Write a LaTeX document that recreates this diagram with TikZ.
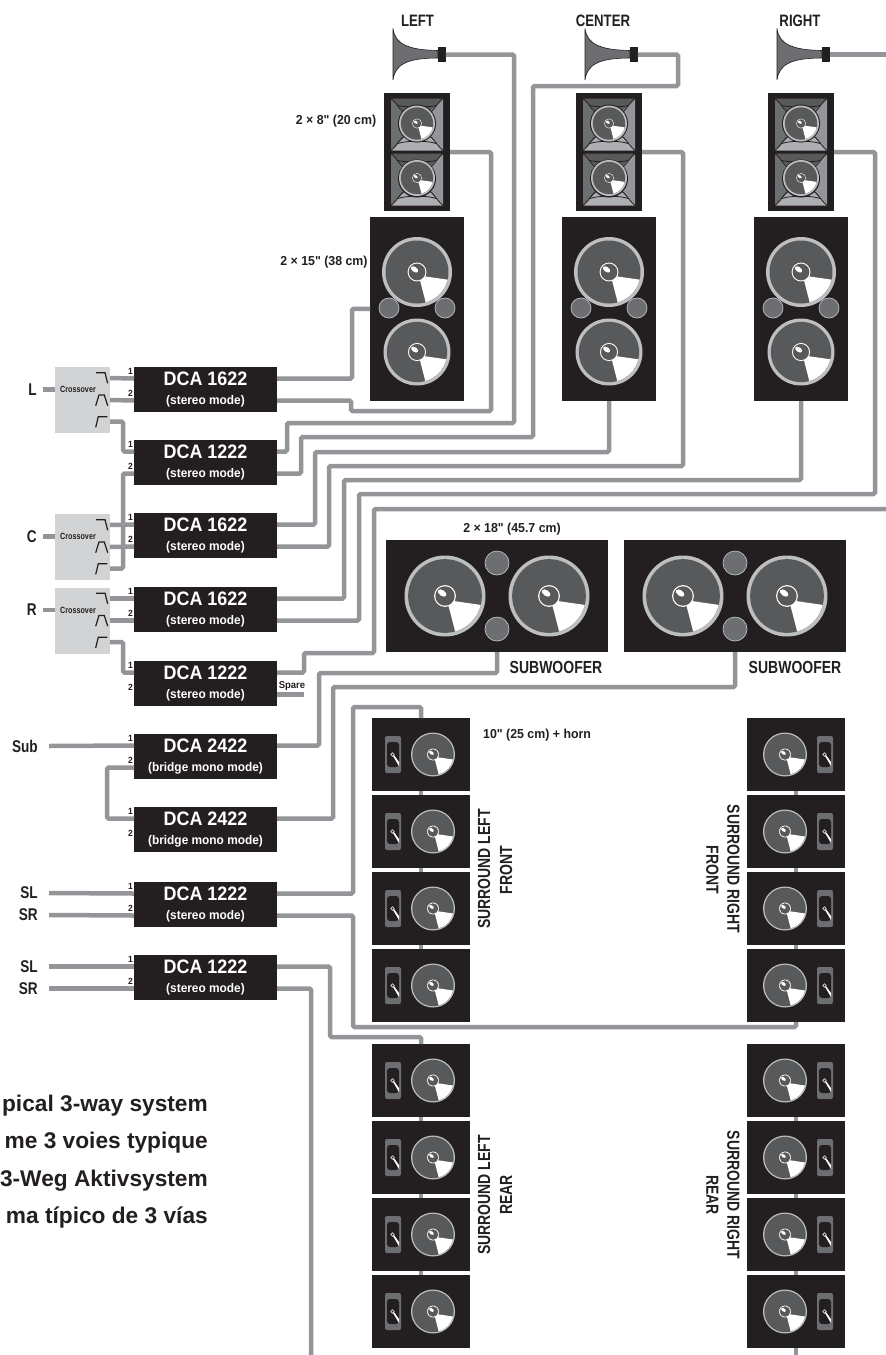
\documentclass[tikz,border=0pt]{standalone}
\usepackage{fontspec}
\setmainfont{Liberation Sans}
\newfontfamily\condf[FakeStretch=.8,UprightFont=* Bold]{Liberation Sans}
\newfontfamily\labf[FakeStretch=.95,UprightFont=* Bold]{Liberation Sans}
\newfontfamily\ampf[FakeStretch=.92,UprightFont=* Bold]{Liberation Sans}
\usetikzlibrary{positioning,calc}
\definecolor{wirec}{HTML}{939598}
\definecolor{cabc}{HTML}{231F20}
\definecolor{conec}{HTML}{58595B}
\definecolor{ringc}{HTML}{BCBEC0}
\definecolor{portc}{HTML}{6D6E71}
\definecolor{xoverc}{HTML}{D1D3D4}
\tikzset{
  box/.style={fill=cabc,inner sep=0pt,outer sep=0pt},
  amp/.style={box,minimum width=143pt,minimum height=45pt,text=white,align=center},
  lowcab/.style={box,minimum width=94pt,minimum height=184.5pt},
  hfcab/.style={box,minimum width=66pt,minimum height=118pt},
  subcab/.style={box,minimum width=222pt,minimum height=112pt},
  surr/.style={box,minimum width=98pt,minimum height=73pt},
  xover/.style={fill=xoverc,inner sep=0pt,outer sep=0pt,minimum width=55pt,minimum height=66pt},
  driver/.style={box,minimum width=7.5pt,minimum height=14.5pt},
  wire/.style={draw=wirec,line width=4.5pt,rounded corners=1.5pt},
  xfilt/.style={draw=cabc,line width=1.2pt},
  port/.style={fill=portc,draw=ringc,line width=.7pt},
  lab/.style={font=\labf\fontsize{13}{15}\selectfont,inner sep=0pt,text=cabc},
  capt/.style={font=\condf\fontsize{17.5}{19}\selectfont,inner sep=0pt,text=cabc},
  sig/.style={font=\condf\fontsize{17}{19}\selectfont,inner sep=0pt,text=cabc,anchor=east},
  num/.style={font=\labf\fontsize{9}{10}\selectfont,inner sep=0pt,text=cabc,anchor=east},
  ttl/.style={font=\bfseries\fontsize{22.7}{24}\selectfont,inner sep=0pt,text=cabc,anchor=east},
  pics/cone/.style={code={
    \fill[ringc] (0,0) circle[radius=1];
    \fill[conec] (0,0) circle[radius=#1];
    \fill[white] (.05,.1) -- (14:#1) arc[start angle=14,end angle=74,radius=#1] -- cycle;
    \fill[white] (0,0) circle[radius=.27];
    \fill[conec] (0,0) circle[radius=.24];
    \fill[white,rotate=-35] (-.1,-.02) ellipse[x radius=.12,y radius=.07];
  }},
  pics/hfpanel/.style={code={
    \fill[conec] (-26,-26) -- (0,0) -- (26,-26) -- cycle;
    \fill[portc] (-26,-26) -- (0,0) -- (-26,26) -- cycle;
    \fill[wirec] (26,-26) -- (0,0) -- (26,26) -- cycle;
    \fill[wirec!75] (-26,26) -- (0,0) -- (26,26) -- cycle;
    \foreach \a/\b in {-1/-1,1/-1,-1/1,1/1}
      \draw[cabc,line width=.8pt] ({26*\a},{26*\b}) .. controls ({17*\a},{18*\b}) and ({19*\a},{15*\b}) .. ({10*\a},{10*\b});
    \draw[cabc,line width=.8pt] (-19,-19) .. controls (-12,-17) and (12,-17) .. (19,-19);
    \draw[cabc,line width=.8pt] (-19,19) .. controls (-12,16) and (12,16) .. (19,19);
    \fill[cabc] (0,-1) circle[radius=19];
  }},
  pics/hornbox/.style={code={
    \fill[portc,rounded corners=2pt] (-8,-18.5) rectangle (8,18.5);
    \fill[cabc,rounded corners=3pt] (-6,-12.5) rectangle (6,12.5);
    \draw[white,line width=.6pt] (-.5,0) circle[radius=1.8];
    \fill[white] (0,1.5) -- (1.2,.8) -- (6,7.5) -- (6,11.5) -- cycle;
  }},
}
\begin{document}
\begin{tikzpicture}[x=1pt,y=-1pt]
\useasboundingbox (0,0) rectangle (886,1355);
\foreach \nm/\x/\tl/\tx in {L/417/LEFT/417.5,C/609/CENTER/603,R/801/RIGHT/800}{
  \node[lowcab] (low\nm) at (\x,308.75) {};
  \node[hfcab,above=5.5pt of low\nm] (hf\nm) {};
  \node[driver] (drv\nm) at ({\x+25},54.5) {};
  \node[capt,font=\condf\fontsize{16.5}{18}\selectfont] (tag\nm) at (\tx,21) {\tl};
  \fill[portc,draw=cabc,line width=.6pt] ({\x-24},28.5) .. controls ({\x-22},44) and ({\x-9},50) .. ({\x+21},50.5)
    -- ({\x+21},58) .. controls ({\x-9},58) and ({\x-22},64) .. ({\x-24},80) -- cycle;
  \pic at (\x,124.5) {hfpanel};
  \pic at (\x,179.5) {hfpanel};
  \pic[scale=18] at (\x,123.5) {cone=.9};
  \pic[scale=18] at (\x,178) {cone=.9};
  \pic[scale=35] at (\x,272) {cone=.9};
  \pic[scale=33.5] at (\x,352) {cone=.9};
  \draw[port] ({\x-28},308) circle[radius=10];
  \draw[port] ({\x+28},308) circle[radius=10];
}
\foreach \nm/\x in {sub1/497,sub2/735}{
  \node[subcab] (\nm) at (\x,596) {};
  \pic[scale=40.5] at ({\x-52},596) {cone=.91};
  \pic[scale=40.5] at ({\x+52},596) {cone=.91};
  \draw[port] (\x,563) circle[radius=12];
  \draw[port] (\x,629) circle[radius=12];
}
\foreach \nm/\x/\y/\wx/\hx in {slf/421/754.5/12/-28,srf/796/754.5/-11/29,slr/421/1080.5/12/-28,srr/796/1080.5/-11/29}{
  \foreach \i in {1,2,3,4}{
    \node[surr] (\nm\i) at (\x,{\y+77*(\i-1)}) {};
    \pic[scale=22] at ({\x+\wx},{\y+77*(\i-1)}) {cone=.94};
    \pic at ({\x+\hx},{\y+77*(\i-1)}) {hornbox};
  }
}
\foreach \nm/\y/\md/\ty in {a1/389.5/1622/stereo,a2/462.5/1222/stereo,a3/535.5/1622/stereo,a4/609.5/1622/stereo,a5/683.5/1222/stereo,a6/756.5/2422/bridge mono,a7/829.5/2422/bridge mono,a8/904.5/1222/stereo,a9/977.5/1222/stereo}{
  \node[amp] (\nm) at (205.5,\y) {\ampf\fontsize{19.5}{19.5}\selectfont DCA \md\\[7pt]\labf\fontsize{12.5}{14}\selectfont (\ty{} mode)};
  \coordinate (\nm-i1) at (134,{\y-11});
  \coordinate (\nm-i2) at (134,{\y+11});
  \coordinate (\nm-o1) at (277,{\y-11});
  \coordinate (\nm-o2) at (277,{\y+11});
  \node[num] (\nm-n1) at (133,{\y-18.5}) {1};
  \node[num] (\nm-n2) at (133,{\y+3.5}) {2};
}
\foreach \nm/\y in {L/400,C/547,R/620.5}{
  \node[xover] (x\nm) at (82.5,\y) {};
  \node[font=\condf\fontsize{9}{10}\selectfont,inner sep=0pt,text=cabc] (xt\nm) at (78,{\y-10.5}) {Crossover};
  \node[sig] (in\nm) at (37,{\y-10.5}) {\nm};
  \coordinate (x\nm-i) at (55,{\y-10.5});
  \coordinate (x\nm-o1) at (110,{\y-22});
  \coordinate (x\nm-o2) at (110,\y);
  \coordinate (x\nm-o3) at (110,{\y+21.5});
  \begin{scope}[shift={(0,\y)}]
    \draw[xfilt] (96,-27.3) -- (105,-27.3) -- (107.7,-16.7);
    \draw[xfilt] (95.7,5.7) -- (99,-5) -- (104.3,-5) -- (107.7,5.7);
    \draw[xfilt] (95.7,27.3) -- (98.3,16.7) -- (107.3,16.7);
  \end{scope}
  \draw[wire] ($(in\nm.east)+(6,0)$) -- (x\nm-i);
}
\node[sig] (sub) at (38,746) {Sub};
\node[sig] (sl1) at (38,893) {SL};
\node[sig] (sr1) at (38,915) {SR};
\node[sig] (sl2) at (38,966.5) {SL};
\node[sig] (sr2) at (38,988.5) {SR};
\foreach \u/\v in {sub/a6-i1,sl1/a8-i1,sr1/a8-i2,sl2/a9-i1,sr2/a9-i2}
  \draw[wire] ($(\u.east)+(11,0)$) -- (\v);
\foreach \u/\v in {xL-o1/a1-i1,xL-o2/a1-i2,xC-o1/a3-i1,xC-o2/a3-i2,xR-o1/a4-i1,xR-o2/a4-i2}
  \draw[wire] (\u) -- (\v);
\draw[wire] (xL-o3) -- ++(13,0) |- (a2-i1);
\draw[wire] (xC-o3) -- ++(13,0) |- (a2-i2);
\draw[wire] (xR-o3) -- ++(13,0) |- (a5-i1);
\draw[wire] (a6-i2) -- ++(-27,0) |- (a7-i1);
\coordinate (rtop) at (886,54.5);
\coordinate (rbus) at (886,509);
\coordinate (spareend) at (304,694.5);
\coordinate (endl) at (311,1355);
\coordinate (endr) at (796,1355);
\draw[wire] (a1-o1) -| (352,308.75) -- (lowL.west);
\draw[wire] (a1-o2) -| (351,411) -| (491,152) -- (hfL.east);
\draw[wire] (drvL.east) -| (514,423) -| (287,451.5) -- (a2-o1);
\draw[wire] (a2-o2) -| (301,437) -| (533,86) -| (678,54.5) -- (drvC.east);
\draw[wire] (a3-o1) -| (315,452) -| (lowC.south);
\draw[wire] (a3-o2) -| (329,466) -| (683,152) -- (hfC.east);
\draw[wire] (a4-o1) -| (344,480) -| (lowR.south);
\draw[wire] (a4-o2) -| (359,494) -| (875,152) -- (hfR.east);
\draw[wire] (drvR.east) -- (rtop);
\draw[wire] (a5-o1) -| (304,653) -| (374,509) -- (rbus);
\draw[wire] (a5-o2) -- (spareend);
\draw[wire] (a6-o1) -| (319,673) -| (sub1.south);
\draw[wire] (a7-o1) -| (333,687) -| (sub2.south);
\draw[wire] (a8-o1) -| (353,707) -| (slf1.north);
\draw[wire] (a8-o2) -| (353,1027) -| (srf4.south);
\draw[wire] (a9-o1) -| (330,1037) -| (slr1.north);
\draw[wire] (a9-o2) -| (endl);
\draw[wire] (srr4.south) -- (endr);
\foreach \u/\v in {slf1/slf2,slf2/slf3,slf3/slf4,srf1/srf2,srf2/srf3,srf3/srf4,slr1/slr2,slr2/slr3,slr3/slr4,srr1/srr2,srr2/srr3,srr3/srr4}
  \draw[wire] (\u.south) -- (\v.north);
\foreach \nm/\x/\y/\tl in {tag1/336/121/2 × 8" (20 cm),tag2/324/262/2 × 15" (38 cm),tag3/512/529/2 × 18" (45.7 cm)}
  \node[lab] (\nm) at (\x,\y) {\tl};
\node[lab,anchor=west] (tag4) at (483,735.5) {10" (25 cm) + horn};
\node[lab,font=\labf\fontsize{10}{11}\selectfont] (spare) at (292,686) {Spare};
\node[capt] (wf1) at (556,667) {SUBWOOFER};
\node[capt] (wf2) at (795,667) {SUBWOOFER};
\foreach \nm/\x/\y/\ang/\tl in {s1/484/869/90/SURROUND LEFT,s2/506/870/90/FRONT,s3/733.5/869/-90/SURROUND RIGHT,s4/712.5/870/-90/FRONT,s5/484/1195/90/SURROUND LEFT,s6/506/1195/90/REAR,s7/733.5/1195/-90/SURROUND RIGHT,s8/712.5/1195/-90/REAR}
  \node[capt,rotate=\ang] (\nm) at (\x,\y) {\tl};
\foreach \nm/\y/\tl in {t1/1106/pical 3-way system,t2/1143/me 3 voies typique,t3/1181/3-Weg Aktivsystem,t4/1218/ma típico de 3 vías}
  \node[ttl] (\nm) at (208,\y) {\tl};
\end{tikzpicture}
\end{document}
